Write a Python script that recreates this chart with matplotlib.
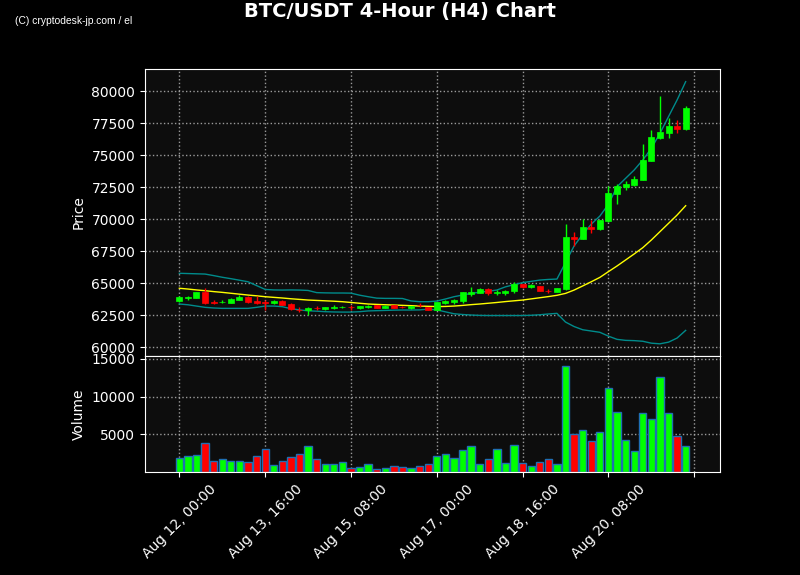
import matplotlib
matplotlib.use("Agg")
import matplotlib.pyplot as plt
import numpy as np

# ---------------- data ----------------
opens = [63600, 63800, 63830, 64300, 63520, 63480, 63470, 63700, 63900, 63600,
         63500, 63460, 63600, 63380, 62930, 62890, 63080, 62970, 63080, 63100,
         63150, 63050, 63130, 63260, 63070, 63260, 63150, 63050, 63300, 63100,
         62920, 63460, 63520, 63620, 64120, 64250, 64560, 64240, 64200, 64380,
         64900, 64670, 64760, 64410, 64320, 64530, 68630, 68440, 69370, 69220,
         69850, 71950, 72500, 72660, 73070, 74560, 76330, 76720, 77250, 77050]
highs = [63950, 64000, 64300, 64590, 63650, 63650, 63800, 64060, 64000, 63960,
         63650, 63680, 63650, 63450, 63120, 63100, 63230, 63150, 63280, 63200,
         63250, 63230, 63250, 63300, 63260, 63290, 63200, 63230, 63450, 63150,
         63500, 63650, 63750, 64320, 64660, 64600, 64580, 64450, 64450, 65100,
         64950, 64900, 64780, 64520, 64620, 69590, 69010, 70025, 69920, 69950,
         72580, 72700, 72990, 73350, 75840, 76930, 79590, 77890, 77730, 78830]
lows = [63550, 63700, 63800, 63400, 63340, 63410, 63420, 63650, 63450, 63400,
        62870, 63400, 63250, 62890, 62750, 62520, 62890, 62860, 62970, 63030,
        62900, 63000, 63080, 63050, 63030, 63050, 63050, 63000, 63100, 62870,
        62900, 63400, 63400, 63460, 63980, 64200, 64100, 64100, 64100, 64200,
        64640, 64600, 64350, 64250, 64290, 64450, 67890, 68400, 68930, 69150,
        69800, 71170, 72265, 72600, 73030, 74500, 76250, 76300, 76720, 76950]
closes = [63900, 63870, 64270, 63460, 63470, 63530, 63750, 63900, 63550, 63440,
          63460, 63620, 63300, 62970, 62880, 63050, 63030, 63120, 63130, 63140,
          63100, 63200, 63200, 63070, 63230, 63070, 63100, 63200, 63250, 62890,
          63490, 63590, 63670, 64300, 64270, 64550, 64200, 64300, 64400, 64950,
          64660, 64820, 64380, 64370, 64580, 68590, 68460, 69375, 69220, 69920,
          72030, 72580, 72730, 73125, 74610, 76400, 76800, 77265, 77060, 78670]
volumes = [1900, 2160, 2290, 3890, 1490, 1760, 1490, 1490, 1360, 2160,
           3090, 960, 1490, 2030, 2430, 3490, 1760, 1090, 1090, 1360,
           560, 690, 1090, 430, 560, 830, 690, 560, 830, 1090,
           2160, 2430, 1890, 2960, 3490, 1090, 1760, 3090, 1230, 3630,
           1230, 830, 1360, 1760, 1090, 14030, 5090, 5630, 4160, 5360,
           11090, 8030, 4290, 2830, 7890, 7090, 12560, 7890, 4830, 3490]
sma = [64590, 64530, 64460, 64400, 64330, 64270, 64200, 64130, 64060, 64000,
       63930, 63880, 63830, 63770, 63720, 63670, 63640, 63610, 63580, 63540,
       63480, 63420, 63360, 63330, 63300, 63280, 63255, 63230, 63200, 63180,
       63160, 63170, 63200, 63250, 63310, 63360, 63420, 63480, 63550, 63610,
       63670, 63760, 63850, 63940, 64040, 64190, 64450, 64770, 65100, 65440,
       65890, 66330, 66800, 67270, 67760, 68360, 69010, 69660, 70310, 71040]
bb_upper = [65760, 65740, 65720, 65700, 65580, 65450, 65340, 65220, 65100, 64800,
            64500, 64460, 64450, 64460, 64450, 64420, 64250, 64230, 64220, 64220,
            64210, 64050, 63930, 63820, 63800, 63800, 63790, 63600, 63540, 63540,
            63590, 63750, 63930, 64060, 64190, 64280, 64360, 64450, 64700, 64870,
            65030, 65130, 65230, 65280, 65310, 66600, 67900, 68800, 69600, 70230,
            71150, 72520, 73180, 73830, 74610, 75520, 76690, 78000, 79300, 80730]
bb_lower = [63360, 63300, 63200, 63100, 63050, 63020, 63020, 63020, 63020, 63100,
            63200, 63200, 63150, 63000, 62900, 62830, 62800, 62760, 62740, 62730,
            62730, 62760, 62820, 62840, 62860, 62880, 62890, 62890, 62900, 62960,
            62900, 62750, 62600, 62540, 62500, 62470, 62460, 62460, 62460, 62460,
            62460, 62480, 62520, 62580, 62630, 61950, 61600, 61350, 61250, 61150,
            60850, 60600, 60520, 60500, 60450, 60300, 60250, 60380, 60700, 61300]
tick_pos = [0, 10, 20, 30, 40, 50, 60]
tick_labels = ["Aug 12, 00:00", "Aug 13, 16:00", "Aug 15, 08:00",
               "Aug 17, 00:00", "Aug 18, 16:00", "Aug 20, 08:00", ""]
price_ticks = [60000, 62500, 65000, 67500, 70000, 72500, 75000, 77500, 80000]
vol_ticks = [5000, 10000, 15000]

# ---------------- plot ----------------
UP, DOWN = "#00ff00", "#ff0000"
x = np.arange(len(closes))
o, h, l, c = map(np.array, (opens, highs, lows, closes))
colors = [UP if cc >= oo else DOWN for oo, cc in zip(opens, closes)]

fig = plt.figure(figsize=(8, 5.75), dpi=100, facecolor="black")
ax = fig.add_axes([0.18125, 0.3809, 0.71875, 0.4991])
axv = fig.add_axes([0.18125, 0.1791, 0.71875, 0.2018], sharex=ax)

for a in (ax, axv):
    a.set_facecolor("#0d0d0d")
    for s in a.spines.values():
        s.set_color("white")
    a.tick_params(colors="white", labelsize=10)
    a.grid(True, color="#aaaaaa", linestyle=":", linewidth=1, alpha=0.9)
    a.set_axisbelow(True)

# candles
ax.vlines(x, l, h, colors=colors, linewidth=1, zorder=3)
body_bottom = np.minimum(o, c)
body_height = np.maximum(np.abs(c - o), 20)
ax.bar(x, body_height, bottom=body_bottom, width=0.7, color=colors,
       edgecolor=colors, linewidth=0.5, zorder=4)

ax.plot(x, bb_upper, color="#008b8b", linewidth=1, zorder=2)
ax.plot(x, bb_lower, color="#008b8b", linewidth=1, zorder=2)
ax.plot(x, sma, color="#ffff00", linewidth=1, zorder=2)

ax.set_ylim(59300, 81720)
ax.set_yticks(price_ticks)
ax.set_ylabel("Price", color="white", fontsize=10)
ax.tick_params(axis="x", labelbottom=False)

# volume
axv.bar(x, volumes, width=0.85, color=colors, edgecolor="#1f6fb4", linewidth=1)
axv.set_ylim(0, 15400)
axv.set_yticks(vol_ticks)
axv.set_ylabel("Volume", color="white", fontsize=10)
axv.set_xlim(-4, 63)
axv.set_xticks(tick_pos)
axv.set_xticklabels(tick_labels, rotation=45, ha="center")

fig.suptitle("BTC/USDT 4-Hour (H4) Chart", color="white", fontsize=14,
             fontweight="bold", y=0.996)
fig.text(0.019, 0.964, "(C) cryptodesk-jp.com / el", color="white", fontsize=7.4,
         family=["Liberation Sans", "DejaVu Sans"], va="center")

fig.savefig("out.png", dpi=100, facecolor="black")
